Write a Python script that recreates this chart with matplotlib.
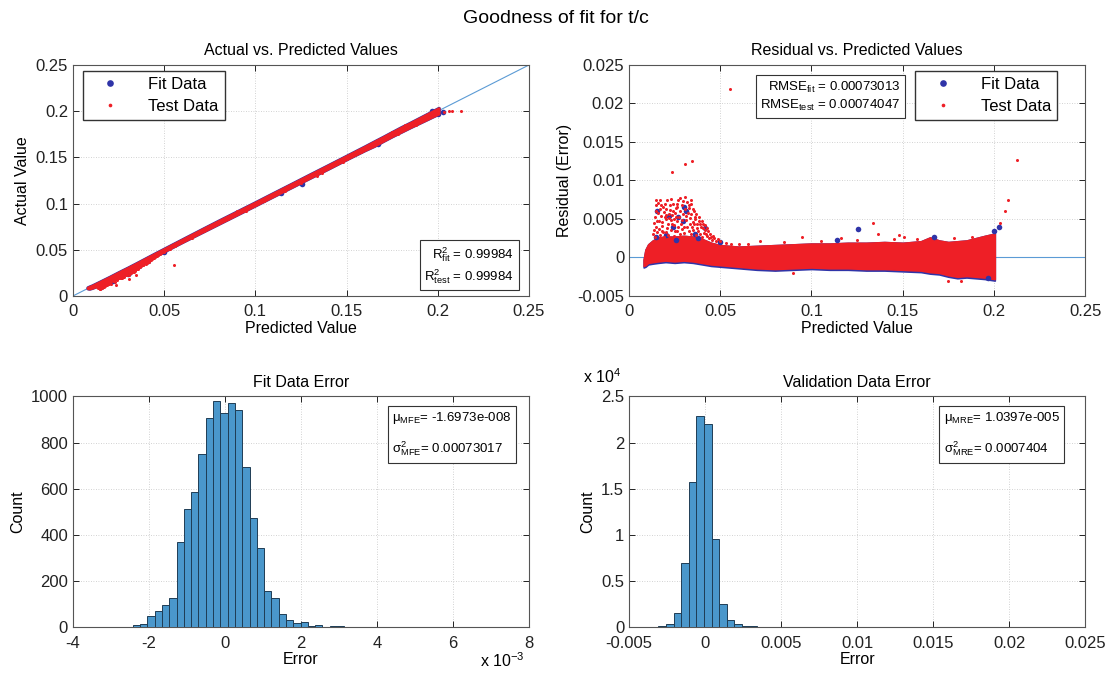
import numpy as np
import matplotlib.pyplot as plt
from matplotlib.ticker import FuncFormatter, MultipleLocator

plt.rcParams['font.family'] = ['Liberation Sans', 'DejaVu Sans']
plt.rcParams['mathtext.fontset'] = 'custom'
plt.rcParams['mathtext.rm'] = 'Liberation Sans'
plt.rcParams['mathtext.it'] = 'Liberation Sans:italic'
plt.rcParams['mathtext.bf'] = 'Liberation Sans:bold'

# residual = predicted - actual; dense cloud given as envelope over predicted value
band_pred = [0.0080, 0.0090, 0.0105, 0.013, 0.016, 0.020, 0.025, 0.030, 0.035, 0.040,
             0.045, 0.050, 0.060, 0.070, 0.080, 0.090, 0.100, 0.110, 0.120, 0.130,
             0.140, 0.150, 0.160, 0.165, 0.170, 0.175, 0.180, 0.185, 0.190, 0.195, 0.2005]
band_hi = [-0.0003, 0.0010, 0.0017, 0.0022, 0.0026, 0.0027, 0.0027, 0.0028, 0.0027, 0.0024,
           0.0019, 0.0016, 0.0014, 0.0015, 0.0016, 0.0017, 0.0018, 0.0018, 0.0019, 0.0019,
           0.0020, 0.0019, 0.0021, 0.0026, 0.0022, 0.0020, 0.0021, 0.0022, 0.0025, 0.0028, 0.0031]
fit_lo = [-0.0013, -0.0012, -0.0009, -0.0008, -0.0007, -0.0006, -0.0007, -0.0006, -0.0007, -0.0009,
          -0.0011, -0.0012, -0.0014, -0.0016, -0.0017, -0.0016, -0.0015, -0.0016, -0.0016, -0.0017,
          -0.0017, -0.0018, -0.0019, -0.0021, -0.0022, -0.0025, -0.0027, -0.0026, -0.0027, -0.0028, -0.0030]
test_lo = [-0.0011, -0.0010, -0.0007, -0.0006, -0.0005, -0.0004, -0.0005, -0.0004, -0.0005, -0.0007,
           -0.0009, -0.0010, -0.0012, -0.0014, -0.0015, -0.0014, -0.0013, -0.0014, -0.0014, -0.0015,
           -0.0015, -0.0016, -0.0017, -0.0019, -0.0020, -0.0023, -0.0025, -0.0024, -0.0025, -0.0026, -0.0028]

# scattered test points outside the dense band (predicted, residual)
test_points = [
    (0.0555, 0.0219), (0.0234, 0.0111), (0.0309, 0.0122), (0.0347, 0.0125), (0.2125, 0.0127),
    (0.2076, 0.0074), (0.2060, 0.0061), (0.2035, 0.0045), (0.1340, 0.0045), (0.1365, 0.0030),
    (0.0950, 0.0027), (0.1480, 0.0029), (0.1505, 0.0027), (0.1160, 0.0025), (0.0720, 0.0022),
    (0.0150, 0.0074), (0.0160, 0.0071), (0.0172, 0.0075), (0.0185, 0.0066), (0.0196, 0.0069),
    (0.0208, 0.0075), (0.0222, 0.0062), (0.0240, 0.0070), (0.0255, 0.0064), (0.0268, 0.0074),
    (0.0280, 0.0077), (0.0292, 0.0068), (0.0305, 0.0078), (0.0318, 0.0072), (0.0330, 0.0064),
    (0.0342, 0.0069), (0.0355, 0.0060), (0.0368, 0.0056), (0.0135, 0.0045), (0.0142, 0.0052),
    (0.0148, 0.0039), (0.0158, 0.0058), (0.0165, 0.0047), (0.0176, 0.0054), (0.0182, 0.0041),
    (0.0190, 0.0059), (0.0200, 0.0050), (0.0212, 0.0044), (0.0218, 0.0057), (0.0228, 0.0049),
    (0.0236, 0.0055), (0.0245, 0.0042), (0.0252, 0.0058), (0.0262, 0.0047), (0.0274, 0.0053),
    (0.0285, 0.0044), (0.0296, 0.0056), (0.0310, 0.0049), (0.0322, 0.0058), (0.0335, 0.0051),
    (0.0348, 0.0046), (0.0360, 0.0050), (0.0372, 0.0043), (0.0385, 0.0048), (0.0395, 0.0040),
    (0.0405, 0.0044), (0.0418, 0.0036), (0.0430, 0.0038), (0.0445, 0.0031), (0.0460, 0.0028),
    (0.0130, 0.0030), (0.0140, 0.0026), (0.0152, 0.0033), (0.0168, 0.0029), (0.0178, 0.0035),
    (0.0192, 0.0027), (0.0205, 0.0033), (0.0215, 0.0029), (0.0232, 0.0036), (0.0248, 0.0028),
    (0.0265, 0.0034), (0.0278, 0.0030), (0.0290, 0.0037), (0.0302, 0.0032), (0.0315, 0.0027),
    (0.0328, 0.0035), (0.0340, 0.0031), (0.0352, 0.0036), (0.0365, 0.0029), (0.0378, 0.0034),
    (0.0390, 0.0030), (0.0402, 0.0027), (0.0412, 0.0032), (0.0425, 0.0028), (0.0438, 0.0025),
    (0.0452, 0.0023), (0.0475, 0.0022), (0.0500, 0.0021), (0.0530, 0.0019), (0.0560, 0.0018),
    (0.0600, 0.0017), (0.0650, 0.0018), (0.0850, 0.0020), (0.1050, 0.0022), (0.1250, 0.0023),
    (0.1450, 0.0024), (0.1580, 0.0024), (0.1780, 0.0025), (0.1880, 0.0027), (0.1750, -0.0030),
    (0.1820, -0.0031), (0.0900, -0.0020),
    (0.0138, 0.0036), (0.0145, 0.0061), (0.0155, 0.0048), (0.0162, 0.0037), (0.0170, 0.0063),
    (0.0180, 0.0046), (0.0188, 0.0033), (0.0195, 0.0052), (0.0203, 0.0063), (0.0210, 0.0038),
    (0.0220, 0.0051), (0.0226, 0.0068), (0.0233, 0.0043), (0.0242, 0.0061), (0.0250, 0.0035),
    (0.0258, 0.0052), (0.0265, 0.0066), (0.0271, 0.0040), (0.0282, 0.0060), (0.0288, 0.0049),
    (0.0299, 0.0040), (0.0306, 0.0063), (0.0313, 0.0054), (0.0320, 0.0040), (0.0326, 0.0068),
    (0.0333, 0.0044), (0.0338, 0.0057), (0.0345, 0.0039), (0.0351, 0.0063), (0.0358, 0.0043),
    (0.0363, 0.0053), (0.0375, 0.0038), (0.0382, 0.0052), (0.0388, 0.0044), (0.0398, 0.0048),
    (0.0408, 0.0038), (0.0415, 0.0042), (0.0422, 0.0031), (0.0435, 0.0034), (0.0448, 0.0027),
    (0.0465, 0.0025), (0.0485, 0.0024), (0.0146, 0.0068), (0.0175, 0.0068), (0.0232, 0.0076),
    (0.0262, 0.0070), (0.0298, 0.0073), (0.0337, 0.0075), (0.0204, 0.0055), (0.0247, 0.0050),
]

# scattered fit points (predicted, residual)
fit_points = [
    (0.0153, 0.0061), (0.0219, 0.0054), (0.0268, 0.0053), (0.0301, 0.0066), (0.0310, 0.0061),
    (0.0296, 0.0048), (0.0240, 0.0040), (0.0414, 0.0038), (0.0360, 0.0031), (0.0204, 0.0029),
    (0.0260, 0.0023), (0.0150, 0.0027), (0.0380, 0.0025), (0.0497, 0.0020), (0.1254, 0.0037),
    (0.1670, 0.0026), (0.1140, 0.0023), (0.2000, 0.0035), (0.2030, 0.0040), (0.1970, -0.0027),
]

r2_fit, r2_test = 0.99984, 0.99984
rmse_fit, rmse_test = 0.00073013, 0.00074047

# histogram of fit errors
fit_bin_start, fit_bin_width = -2.81e-3, 0.192e-3
fit_counts = [1, 2, 12, 13, 47, 71, 95, 127, 369, 511, 584, 749, 908, 980, 928, 971, 941, 694,
              475, 345, 159, 127, 56, 33, 20, 25, 7, 12, 1, 7, 4, 3, 2, 3, 2, 2, 0, 0, 0, 1,
              1, 2, 0, 0, 0, 1, 0, 0, 0, 1]
# histogram of validation errors
val_bin_start, val_bin_width = -0.00307, 0.0005
val_counts = [150, 400, 1570, 6980, 15750, 22830, 21970, 9600, 2490, 760, 320, 140, 100, 60, 40,
              30, 20, 15, 12, 10, 8, 6, 4, 0, 0, 0, 0, 2, 0, 0, 1, 1, 0, 0, 0, 0, 0, 0, 0, 0,
              0, 0, 0, 0, 0, 0, 0, 0, 0, 0, 1]
mu_mfe, var_mfe = '-1.6973e-008', '0.00073017'
mu_mre, var_mre = '1.0397e-005', '0.0007404'

blue = '#2f34a8'
red = '#ee1f26'
ref_line = '#5b9bd5'
bar_face = '#4a97cb'
bar_edge = '#1f3d55'

band_pred = np.array(band_pred)
band_hi = np.array(band_hi)
fit_lo = np.array(fit_lo)
test_lo = np.array(test_lo)
test_pred, test_resid = np.array(test_points).T
fit_pred, fit_resid = np.array(fit_points).T

fig = plt.figure(figsize=(11.12, 6.79), dpi=100)
ax1 = fig.add_axes([0.0656, 0.5641, 0.4101, 0.3402])
ax2 = fig.add_axes([0.5657, 0.5641, 0.4101, 0.3402])
ax3 = fig.add_axes([0.0656, 0.0761, 0.4101, 0.3402])
ax4 = fig.add_axes([0.5657, 0.0761, 0.4101, 0.3402])


def style(ax):
    ax.grid(True, linestyle=(0, (1, 2)), color='#c4c4c4', linewidth=0.6)
    ax.set_axisbelow(True)
    ax.tick_params(direction='in', top=True, right=True, length=4, width=0.7,
                   labelsize=12, colors='#222222')
    ax.tick_params(axis='x', pad=6)
    for s in ax.spines.values():
        s.set_color('#555555')
        s.set_linewidth(0.8)


g = FuncFormatter(lambda v, p: '%g' % round(v, 6))
box = dict(boxstyle='square,pad=0.35', facecolor='white', edgecolor='#333333', linewidth=0.8)
leg_kw = dict(borderaxespad=0, fontsize=12, fancybox=False, edgecolor='#333333', framealpha=1,
              handlelength=2.6, handletextpad=1.0, borderpad=0.35, labelspacing=0.45,
              markerscale=1.2)

# actual vs predicted
ax1.plot([0, 0.25], [0, 0.25], color=ref_line, lw=0.8, zorder=1)
ax1.fill_between(band_pred, band_pred - band_hi, band_pred - fit_lo,
                 facecolor=blue, edgecolor=blue, lw=2.4, zorder=2)
ax1.fill_between(band_pred, band_pred - band_hi, band_pred - test_lo,
                 facecolor=red, edgecolor=red, lw=2.0, zorder=3)
ax1.plot(fit_pred, fit_pred - fit_resid, 'o', color=blue, ms=4, mew=0, zorder=2, label='Fit Data')
ax1.plot(test_pred, test_pred - test_resid, 'o', color=red, ms=2.2, mew=0, zorder=4, label='Test Data')
ax1.set_xlim(0, 0.25)
ax1.set_ylim(0, 0.25)
ax1.xaxis.set_major_locator(MultipleLocator(0.05))
ax1.yaxis.set_major_locator(MultipleLocator(0.05))
ax1.xaxis.set_major_formatter(g)
ax1.yaxis.set_major_formatter(g)
style(ax1)
ax1.set_title('Actual vs. Predicted Values', fontsize=11.5, pad=7)
ax1.set_xlabel('Predicted Value', fontsize=11.5, labelpad=1)
ax1.set_ylabel('Actual Value', fontsize=11.5, labelpad=4)
ax1.legend(loc='upper left', bbox_to_anchor=(0.021, 0.974), **leg_kw)
ax1.text(0.967, 0.045, '$\\mathregular{R^2_{fit}}$ = %.5f\n$\\mathregular{R^2_{test}}$ = %.5f' % (r2_fit, r2_test),
         transform=ax1.transAxes, ha='right', va='bottom', fontsize=9.5, linespacing=1.25,
         multialignment='right', bbox=box, zorder=6)

# residual vs predicted
ax2.axhline(0, color=ref_line, lw=0.8, zorder=1)
ax2.fill_between(band_pred, fit_lo, band_hi, facecolor=blue, edgecolor=blue, lw=1.2, zorder=2)
ax2.fill_between(band_pred, test_lo, band_hi, facecolor=red, edgecolor=red, lw=1.2, zorder=3)
ax2.plot(fit_pred, fit_resid, 'o', color=blue, ms=4, mew=0, zorder=4, label='Fit Data')
ax2.plot(test_pred, test_resid, 'o', color=red, ms=2.2, mew=0, zorder=4, label='Test Data')
ax2.set_xlim(0, 0.25)
ax2.set_ylim(-0.005, 0.025)
ax2.xaxis.set_major_locator(MultipleLocator(0.05))
ax2.yaxis.set_major_locator(MultipleLocator(0.005))
ax2.xaxis.set_major_formatter(g)
ax2.yaxis.set_major_formatter(g)
style(ax2)
ax2.set_title('Residual vs. Predicted Values', fontsize=11.5, pad=7)
ax2.set_xlabel('Predicted Value', fontsize=11.5, labelpad=1)
ax2.set_ylabel('Residual (Error)', fontsize=11.5, labelpad=4)
ax2.legend(loc='upper right', bbox_to_anchor=(0.939, 0.974), **leg_kw)
ax2.text(0.595, 0.935, 'RMSE$_{\\mathregular{fit}}$ = %.8f\nRMSE$_{\\mathregular{test}}$ = %.8f' % (rmse_fit, rmse_test),
         transform=ax2.transAxes, ha='right', va='top', fontsize=9.5, linespacing=1.25,
         multialignment='right', bbox=box, zorder=6)

# fit data error histogram
fit_edges = fit_bin_start + fit_bin_width * np.arange(len(fit_counts))
ax3.bar(fit_edges, fit_counts, width=fit_bin_width, align='edge', color=bar_face,
        edgecolor=bar_edge, linewidth=0.7, zorder=3)
ax3.set_xlim(-4e-3, 8e-3)
ax3.set_ylim(0, 1000)
ax3.xaxis.set_major_locator(MultipleLocator(2e-3))
ax3.yaxis.set_major_locator(MultipleLocator(200))
ax3.xaxis.set_major_formatter(FuncFormatter(lambda v, p: '%g' % round(v * 1e3, 6)))
style(ax3)
ax3.set_title('Fit Data Error', fontsize=11.5, pad=7)
ax3.set_xlabel('Error', fontsize=11.5, labelpad=1)
ax3.set_ylabel('Count', fontsize=11.5, labelpad=4)
ax3.text(0.99, -0.105, 'x 10$^{\\mathregular{-3}}$', transform=ax3.transAxes, ha='right', va='top', fontsize=11.5)
ax3.text(0.7, 0.94, '$\\mathregular{\\mu_{MFE}}$= %s\n\n$\\mathregular{\\sigma^2_{MFE}}$= %s' % (mu_mfe, var_mfe),
         transform=ax3.transAxes, ha='left', va='top', fontsize=9.5, linespacing=1.05,
         bbox=box, zorder=6)

# validation data error histogram
val_edges = val_bin_start + val_bin_width * np.arange(len(val_counts))
ax4.bar(val_edges, val_counts, width=val_bin_width, align='edge', color=bar_face,
        edgecolor=bar_edge, linewidth=0.7, zorder=3)
ax4.set_xlim(-0.005, 0.025)
ax4.set_ylim(0, 25000)
ax4.xaxis.set_major_locator(MultipleLocator(0.005))
ax4.yaxis.set_major_locator(MultipleLocator(5000))
ax4.xaxis.set_major_formatter(g)
ax4.yaxis.set_major_formatter(FuncFormatter(lambda v, p: '%g' % round(v / 1e4, 6)))
style(ax4)
ax4.set_title('Validation Data Error', fontsize=11.5, pad=7)
ax4.set_xlabel('Error', fontsize=11.5, labelpad=1)
ax4.set_ylabel('Count', fontsize=11.5, labelpad=4)
ax4.text(-0.1, 1.045, 'x 10$^{\\mathregular{4}}$', transform=ax4.transAxes, ha='left', va='bottom', fontsize=11.5)
ax4.text(0.69, 0.94, '$\\mathregular{\\mu_{MRE}}$= %s\n\n$\\mathregular{\\sigma^2_{MRE}}$= %s' % (mu_mre, var_mre),
         transform=ax4.transAxes, ha='left', va='top', fontsize=9.5, linespacing=1.05,
         bbox=box, zorder=6)

fig.suptitle('Goodness of fit for t/c', fontsize=14, y=0.986)

plt.savefig('out.png', dpi=100)
